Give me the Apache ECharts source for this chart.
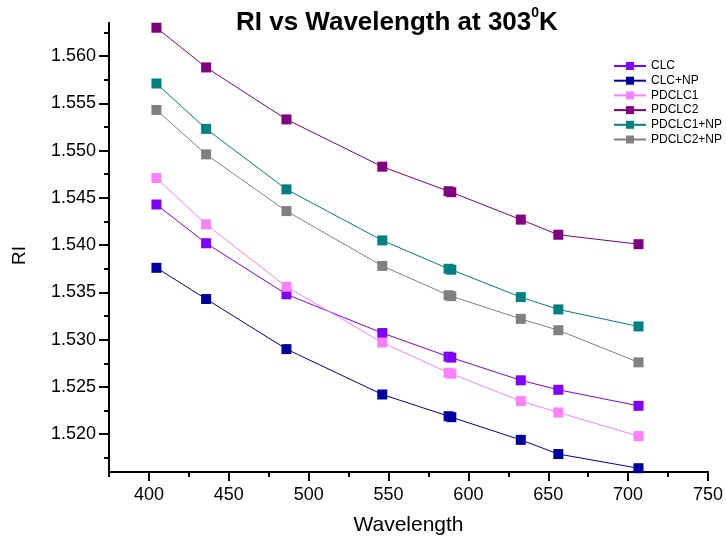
<!DOCTYPE html>
<html><head><meta charset="utf-8">
<script src="https://cdn.jsdelivr.net/npm/echarts@6/dist/echarts.min.js"></script>
<style>html,body{margin:0;padding:0;background:#fff}#c{width:726px;height:541px}</style>
</head><body><div id="c"></div>
<script>
const wavelengths = [404.7, 435.8, 486.1, 546.1, 587.6, 589.3, 632.8, 656.3, 706.5];
const seriesNames = ['CLC', 'CLC+NP', 'PDCLC1', 'PDCLC2', 'PDCLC1+NP', 'PDCLC2+NP'];
const CLC       = [1.5443, 1.5402, 1.5348, 1.5307, 1.5282, 1.5281, 1.5257, 1.5247, 1.5230];
const CLC_NP    = [1.5376, 1.5343, 1.5290, 1.5242, 1.5219, 1.5218, 1.5194, 1.5179, 1.5164];
const PDCLC1    = [1.5471, 1.5422, 1.5356, 1.5297, 1.5265, 1.5264, 1.5235, 1.5223, 1.5198];
const PDCLC2    = [1.5630, 1.5588, 1.5533, 1.5483, 1.5457, 1.5456, 1.5427, 1.5411, 1.5401];
const PDCLC1_NP = [1.5571, 1.5523, 1.5459, 1.5405, 1.5375, 1.5374, 1.5345, 1.5332, 1.5314];
const PDCLC2_NP = [1.5543, 1.5496, 1.5436, 1.5378, 1.5347, 1.5346, 1.5322, 1.5310, 1.5276];
const xMajorTicks = [400, 450, 500, 550, 600, 650, 700, 750];
const xMinorTicks = [375, 425, 475, 525, 575, 625, 675, 725];
const yMajorTicks = [1.520, 1.525, 1.530, 1.535, 1.540, 1.545, 1.550, 1.555, 1.560];
const yMinorTicks = [1.5175, 1.5225, 1.5275, 1.5325, 1.5375, 1.5425, 1.5475, 1.5525, 1.5575, 1.5625];

const allValues = [CLC, CLC_NP, PDCLC1, PDCLC2, PDCLC1_NP, PDCLC2_NP];
const colors = ['#8000FF', '#0000A0', '#FF80FF', '#800080', '#008080', '#808080'];
const FONT = 'Liberation Sans, Arial, sans-serif';
const X_MIN = 375, X_MAX = 750, Y_MIN = 1.516, Y_MAX = 1.5635;

const chart = echarts.init(document.getElementById('c'), null, {renderer: 'canvas'});
const axLine = {show: true, lineStyle: {color: '#000', width: 2}};
const series = seriesNames.map((n, i) => ({
  name: n, type: 'line', xAxisIndex: 0, yAxisIndex: 0,
  data: wavelengths.map((w, j) => [w, allValues[i][j]]),
  symbol: 'rect', symbolSize: 10, color: colors[i],
  lineStyle: {width: 1, color: colors[i]},
  itemStyle: {color: colors[i]},
  animation: false
}));
chart.setOption({
  animation: false,
  backgroundColor: '#fff',
  color: colors,
  title: {
    text: '{a|RI vs Wavelength at 303}{s|0}{a|K}',
    left: 231, top: 1,
    textStyle: {
      rich: {
        a: {fontFamily: FONT, fontSize: 26, fontWeight: 'bold', color: '#000', lineHeight: 30, verticalAlign: 'bottom'},
        s: {fontFamily: FONT, fontSize: 14, fontWeight: 'bold', color: '#000', lineHeight: 30, verticalAlign: 'top', padding: [0, 0, 14, 0]}
      }
    }
  },
  legend: {
    orient: 'vertical', left: 608, top: 55,
    itemWidth: 32, itemHeight: 10, itemGap: 2.7,
    textStyle: {fontFamily: FONT, fontSize: 12, color: '#000', lineHeight: 10},
    data: seriesNames
  },
  grid: {left: 109, right: 15, top: 23, bottom: 68, containLabel: false},
  xAxis: [{
    type: 'value', min: X_MIN, max: X_MAX, position: 'bottom',
    name: 'Wavelength', nameLocation: 'middle', nameGap: 43,
    nameTextStyle: {fontFamily: FONT, fontSize: 21, color: '#000'},
    axisLine: axLine,
    axisTick: {show: true, inside: false, length: 9, lineStyle: {color: '#000', width: 2}, customValues: xMajorTicks},
    axisLabel: {fontFamily: FONT, fontSize: 18, color: '#000', margin: 14, customValues: xMajorTicks},
    splitLine: {show: false}
  }, {
    type: 'value', min: X_MIN, max: X_MAX, position: 'bottom', offset: 0,
    axisLine: axLine,
    axisTick: {show: true, inside: false, length: 5, lineStyle: {color: '#000', width: 2}, customValues: xMinorTicks},
    axisLabel: {show: false},
    splitLine: {show: false}
  }],
  yAxis: [{
    type: 'value', min: Y_MIN, max: Y_MAX, position: 'left',
    name: 'RI', nameLocation: 'middle', nameGap: 80, nameRotate: 90,
    nameTextStyle: {fontFamily: FONT, fontSize: 19, color: '#000', padding: [0, 16, 0, 0]},
    axisLine: axLine,
    axisTick: {show: true, inside: false, length: 10, lineStyle: {color: '#000', width: 2}, customValues: yMajorTicks},
    axisLabel: {fontFamily: FONT, fontSize: 18, color: '#000', margin: 13, customValues: yMajorTicks,
      formatter: v => Number(v).toFixed(3)},
    splitLine: {show: false}
  }, {
    type: 'value', min: Y_MIN, max: Y_MAX, position: 'left', offset: 0,
    axisLine: axLine,
    axisTick: {show: true, inside: false, length: 5, lineStyle: {color: '#000', width: 2}, customValues: yMinorTicks},
    axisLabel: {show: false},
    splitLine: {show: false}
  }],
  series: series
});
</script></body></html>
